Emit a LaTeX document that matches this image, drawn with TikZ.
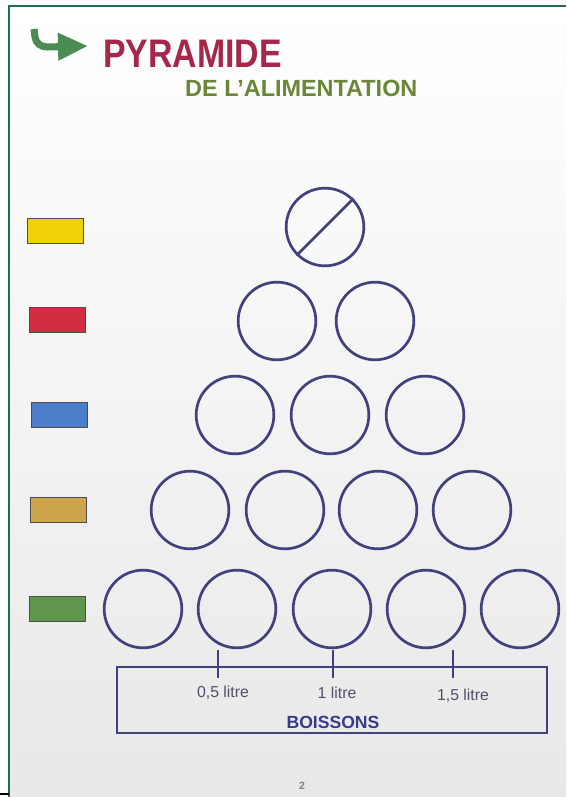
\documentclass[tikz,border=0pt]{standalone}
\usepackage{fontspec}
\setmainfont{Liberation Sans}
\newfontfamily\titlefont[FakeStretch=0.85]{Liberation Sans}
\usetikzlibrary{arrows.meta,positioning}
\definecolor{pagegreen}{RGB}{30,110,80}
\definecolor{titlered}{RGB}{165,40,75}
\definecolor{titlegreen}{RGB}{105,135,55}
\definecolor{arrowgreen}{RGB}{75,140,85}
\definecolor{ringblue}{RGB}{65,65,125}
\definecolor{labelgray}{RGB}{80,80,105}
\definecolor{boxyellow}{RGB}{240,210,10}
\definecolor{boxred}{RGB}{210,45,65}
\definecolor{boxblue}{RGB}{75,125,200}
\definecolor{boxtan}{RGB}{205,165,75}
\definecolor{boxgreen}{RGB}{95,150,75}

\tikzset{
  ring/.style={circle,draw=ringblue,line width=2.3pt,minimum size=2.33cm,inner sep=0pt},
  swatch/.style={draw=gray!60!black,line width=0.6pt,minimum width=1.68cm,minimum height=0.75cm,inner sep=0pt},
  litre/.style={font=\fontsize{13.5}{15}\selectfont,text=labelgray,inner sep=0pt},
}

\begin{document}
\begin{tikzpicture}[x=0.03cm,y=-0.03cm]
    % Page
    \useasboundingbox (0,0) rectangle (566,797);
    \shade[top color=white,bottom color=gray!18] (9,6) rectangle (566,797);
    \draw[pagegreen,line width=1.6pt] (9,797) -- (9,6) -- (566,6);
    \draw[black,line width=1.2pt] (0,794) -- (9,794);
    % Title
    \coordinate (hooktop) at (34,29);
    \coordinate (hookend) at (88,46);
    \draw[arrowgreen,line width=6pt,-{Triangle[length=0.9cm,width=0.78cm]}]
      (hooktop) -- (35,37) to[out=-85,in=180] (47,47) -- (hookend);
    \node[anchor=base west,inner sep=0pt,text=titlered,
      font=\titlefont\bfseries\fontsize{34}{36}\selectfont] (title) at (103,68) {PYRAMIDE};
    \node[anchor=base west,inner sep=0pt,text=titlegreen,
      font=\bfseries\fontsize{20}{22}\selectfont] (subtitle) at (185,97) {DE L'ALIMENTATION};
    % Colour keys
    \node[swatch,fill=boxyellow] (kyellow) at (55,231) {};
    \node[swatch,fill=boxred] (kred) at (57,320) {};
    \node[swatch,fill=boxblue] (kblue) at (59,415) {};
    \node[swatch,fill=boxtan] (ktan) at (58,510) {};
    \node[swatch,fill=boxgreen] (kgreen) at (57,609) {};
    % Pyramid of rings
    \node[ring] (r1a) at (325,227) {};
    \draw[ringblue,line width=2.3pt] (r1a.225) -- (r1a.45);
    \node[ring] (r2a) at (277,321) {};
    \node[ring] (r2b) at (375,321) {};
    \node[ring] (r3a) at (235,415) {};
    \node[ring] (r3b) at (330,415) {};
    \node[ring] (r3c) at (425,415) {};
    \node[ring] (r4a) at (190,510) {};
    \node[ring] (r4b) at (285,510) {};
    \node[ring] (r4c) at (378,510) {};
    \node[ring] (r4d) at (472,510) {};
    \node[ring] (r5a) at (143,609) {};
    \node[ring] (r5b) at (237,609) {};
    \node[ring] (r5c) at (332,609) {};
    \node[ring] (r5d) at (426,609) {};
    \node[ring] (r5e) at (520,609) {};
    % Drinks scale
    \node[draw=ringblue,line width=2.3pt,minimum width=12.9cm,minimum height=1.98cm,
      inner sep=0pt] (drinks) at (332,700) {};
    \foreach \x/\n in {218/1,333/2,453/3} {
      \coordinate (tick\n top) at (\x,650);
      \coordinate (tick\n bot) at (\x,678);
      \draw[ringblue,line width=2.3pt] (tick\n top) -- (tick\n bot);
    }
    \node[litre] (half) at (223,693) {0,5 litre};
    \node[litre] (one) at (337,693) {1 litre};
    \node[litre] (oneandhalf) at (463,696) {1,5 litre};
    \node[inner sep=0pt,text=ringblue!90!blue,font=\bfseries\fontsize{15}{17}\selectfont]
      (boissons) at (333,722) {BOISSONS};
    % Page number
    \node[text=gray,font=\bfseries\fontsize{9}{10}\selectfont] (pageno) at (302,786) {2};
\end{tikzpicture}
\end{document}
